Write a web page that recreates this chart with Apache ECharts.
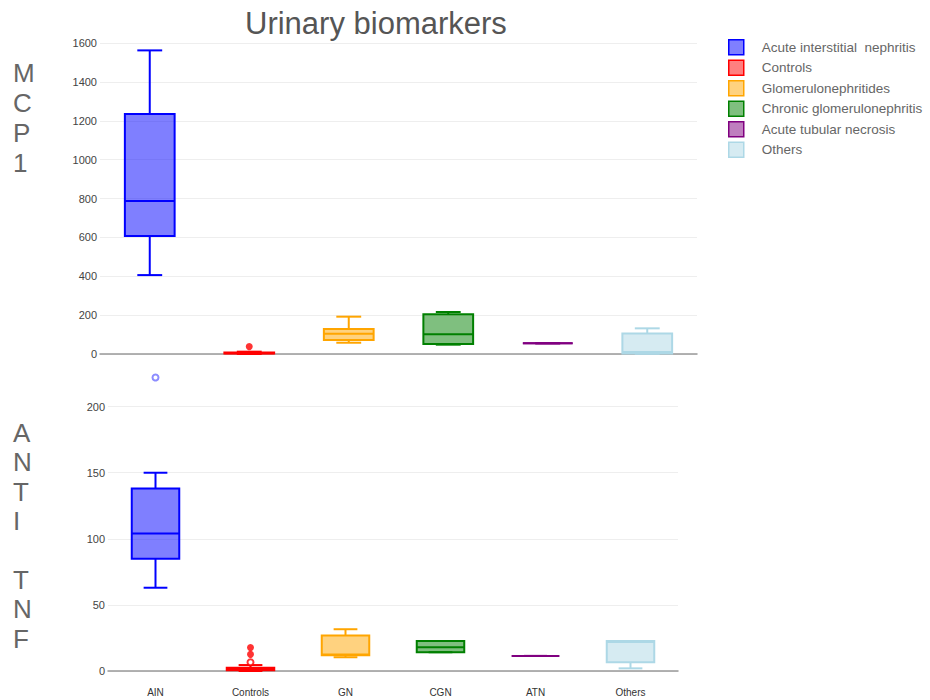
<!DOCTYPE html>
<html>
<head>
<meta charset="utf-8">
<script src="https://cdn.jsdelivr.net/npm/echarts@6/dist/echarts.min.js"></script>
<style>
html,body{margin:0;padding:0;background:#fff;}
#chart{width:930px;height:700px;}
</style>
</head>
<body>
<div id="chart"></div>
<script>
const categories = ['AIN', 'Controls', 'GN', 'CGN', 'ATN', 'Others'];
const groupNames = ['Acute interstitial  nephritis', 'Controls', 'Glomerulonephritides', 'Chronic glomerulonephritis', 'Acute tubular necrosis', 'Others'];
const groupColors = ['#0000ff', '#ff0000', '#ffa500', '#008000', '#800080', '#add8e6'];
const groupFills = ['rgba(0,0,255,0.5)', 'rgba(255,0,0,0.5)', 'rgba(255,165,0,0.5)', 'rgba(0,128,0,0.5)', 'rgba(128,0,128,0.5)', 'rgba(173,216,230,0.5)'];

// [min, Q1, median, Q3, max]
const mcp1Stats = [
  [406, 607, 787, 1235, 1562],
  [0, 2, 4, 8, 12],
  [58, 72, 104, 129, 192],
  [48, 51, 101, 204, 216],
  [55, 55, 55, 55, 55],
  [1, 3, 10, 106, 132]
];
const antiTnfStats = [
  [63, 85, 104, 138, 150],
  [0, 0.5, 1.5, 2.5, 4.5],
  [10.4, 12, 12.5, 26.8, 31.6],
  [14.2, 14.2, 18, 22.7, 22.7],
  [11.4, 11.4, 11.4, 11.4, 11.4],
  [2, 6.6, 22, 22.7, 22.7]
];
// outliers: [categoryIndex, value]
const mcp1OutliersFilled = [[1, 38]];
const antiTnfOutliersFilled = [[1, 12.6], [1, 17.7]];
const antiTnfOutliersOpen = [[0, 222], [1, 6.6]];

const mcp1Ticks = [0, 200, 400, 600, 800, 1000, 1200, 1400, 1600];
const antiTnfTicks = [0, 50, 100, 150, 200];

const FONT = 'Liberation Sans, Arial, sans-serif';

function makeRender(color, fill) {
  return function (params, api) {
    const c = api.value(0);
    const pts = [1, 2, 3, 4, 5].map(function (i) { return api.coord([c, api.value(i)]); });
    const cx = pts[0][0];
    const yMin = pts[0][1], yQ1 = pts[1][1], yMed = pts[2][1], yQ3 = pts[3][1], yMax = pts[4][1];
    const boxW = api.size([1, 0])[0] * 0.5;
    const hw = boxW / 2, cw = boxW / 4;
    const ls = { stroke: color, lineWidth: 2, fill: null };
    return {
      type: 'group',
      children: [
        { type: 'line', shape: { x1: cx, y1: yQ3, x2: cx, y2: yMax }, style: ls },
        { type: 'line', shape: { x1: cx, y1: yQ1, x2: cx, y2: yMin }, style: ls },
        { type: 'line', shape: { x1: cx - cw, y1: yMax, x2: cx + cw, y2: yMax }, style: ls },
        { type: 'line', shape: { x1: cx - cw, y1: yMin, x2: cx + cw, y2: yMin }, style: ls },
        { type: 'rect', shape: { x: cx - hw, y: yQ3, width: boxW, height: Math.max(yQ1 - yQ3, 0) }, style: { fill: fill, stroke: color, lineWidth: 2 } },
        { type: 'line', shape: { x1: cx - hw, y1: yMed, x2: cx + hw, y2: yMed }, style: ls }
      ]
    };
  };
}

const series = [];
[mcp1Stats, antiTnfStats].forEach(function (stats, gi) {
  stats.forEach(function (s, i) {
    series.push({
      type: 'custom',
      name: groupNames[i],
      xAxisIndex: gi,
      yAxisIndex: gi,
      renderItem: makeRender(groupColors[i], groupFills[i]),
      encode: { x: 0, y: [1, 2, 3, 4, 5] },
      itemStyle: { color: groupFills[i], borderColor: groupColors[i] },
      data: [[i].concat(s)],
      z: 3
    });
  });
});

function outlierSeries(points, gi, open) {
  const groups = {};
  points.forEach(function (p) { (groups[p[0]] = groups[p[0]] || []).push(p); });
  Object.keys(groups).forEach(function (k) {
    const i = +k;
    const c = open && i === 0 ? '#6f6fff' : groupColors[i];
    series.push({
      type: 'scatter',
      name: groupNames[i],
      xAxisIndex: gi,
      yAxisIndex: gi,
      symbol: open ? 'emptyCircle' : 'circle',
      symbolSize: open ? 6 : 7,
      itemStyle: open ? { color: c, borderColor: c, borderWidth: 1.5 } : { color: c },
      data: groups[k],
      z: 4
    });
  });
}
outlierSeries(mcp1OutliersFilled, 0, false);
outlierSeries(antiTnfOutliersFilled, 1, false);
outlierSeries(antiTnfOutliersOpen, 1, true);

const chart = echarts.init(document.getElementById('chart'), null, { renderer: 'svg' });
chart.setOption({
  animation: false,
  backgroundColor: '#fff',
  title: {
    text: 'Urinary biomarkers',
    left: 240,
    top: 3,
    textStyle: { fontFamily: FONT, fontSize: 31, fontWeight: 'normal', color: '#555' }
  },
  legend: {
    orient: 'vertical',
    left: 723,
    top: 34,
    itemWidth: 15,
    itemHeight: 15,
    itemGap: 4,
    textStyle: { fontFamily: FONT, fontSize: 13.5, color: '#666', padding: [0, 0, 0, 13] },
    data: groupNames.map(function (n, i) {
      return { name: n, icon: 'rect', itemStyle: { color: groupFills[i], borderColor: groupColors[i], borderWidth: 1.5 } };
    })
  },
  graphic: [
    { type: 'text', left: 13, top: 58, style: { text: 'M\nC\nP\n1', font: '26px ' + FONT, fill: '#666', lineHeight: 30, align: 'center', width: 20 } },
    { type: 'text', left: 13, top: 418, style: { text: 'A\nN\nT\nI\n \nT\nN\nF', font: '26px ' + FONT, fill: '#666', lineHeight: 29.4, align: 'center', width: 20 } }
  ],
  grid: [
    { left: 100, right: 233, top: 43, bottom: 346 },
    { left: 108, right: 252, top: 367, bottom: 29 }
  ],
  xAxis: [
    {
      type: 'category', gridIndex: 0, data: categories,
      axisLine: { onZero: true, lineStyle: { color: '#999', width: 1.5 } },
      axisTick: { show: false }, axisLabel: { show: false }, splitLine: { show: false }
    },
    {
      type: 'category', gridIndex: 1, data: categories,
      axisLine: { onZero: true, lineStyle: { color: '#999', width: 1.5 } },
      axisTick: { show: false },
      axisLabel: { fontFamily: FONT, fontSize: 10, color: '#333', margin: 16 },
      splitLine: { show: false }
    }
  ],
  yAxis: [
    {
      type: 'value', gridIndex: 0, min: mcp1Ticks[0], max: mcp1Ticks[mcp1Ticks.length - 1], interval: mcp1Ticks[1] - mcp1Ticks[0],
      axisLine: { show: false }, axisTick: { show: false },
      axisLabel: { fontFamily: FONT, fontSize: 11, color: '#444', margin: 3,
        formatter: function (v) { return String(v); } },
      splitLine: { lineStyle: { color: '#eeeeee', width: 1 } }
    },
    {
      type: 'value', gridIndex: 1, min: antiTnfTicks[0], max: 230, interval: antiTnfTicks[1] - antiTnfTicks[0],
      axisLine: { show: false }, axisTick: { show: false },
      axisLabel: { fontFamily: FONT, fontSize: 11, color: '#444', margin: 3, showMaxLabel: false,
        formatter: function (v) { return antiTnfTicks.indexOf(v) >= 0 ? String(v) : ''; } },
      splitLine: { showMaxLine: false, lineStyle: { color: '#eeeeee', width: 1 } }
    }
  ],
  series: series
});
</script>
</body>
</html>
